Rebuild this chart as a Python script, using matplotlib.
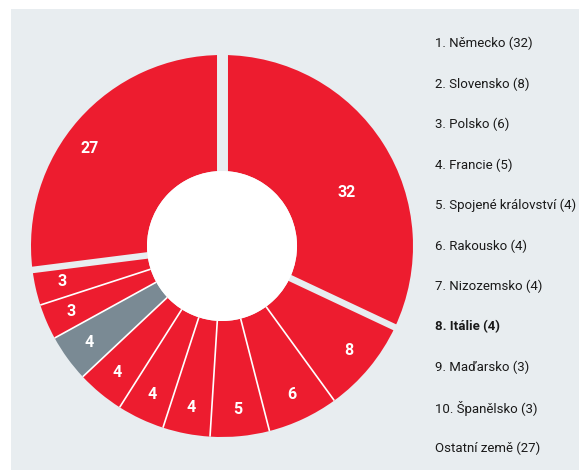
import numpy as np
import matplotlib
matplotlib.use("Agg")
import matplotlib.pyplot as plt
from matplotlib.patches import Rectangle, Circle

# ---- data ----
countries = ["Německo", "Slovensko", "Polsko", "Francie", "Spojené království",
             "Rakousko", "Nizozemsko", "Itálie", "Maďarsko", "Španělsko", "Ostatní země"]
values = [32, 8, 6, 5, 4, 4, 4, 4, 3, 3, 27]
highlight = "Itálie"

RED = "#ed1c2f"
GREY = "#7a8a94"
BG = "#e8edf0"

plt.rcParams["font.family"] = ["Roboto", "DejaVu Sans"]

W, H = 579, 470
fig = plt.figure(figsize=(W / 100, H / 100), dpi=100)
fig.patch.set_facecolor("white")
fig.patches.append(Rectangle((11 / W, 0), 1, (H - 9) / H, transform=fig.transFigure,
                             facecolor=BG, edgecolor="none", zorder=-10))

R_PX = 191.0
ax = fig.add_axes([(222 - 210) / W, (224 - 210) / H, 420 / W, 420 / H])
ax.set_zorder(1)
ax.patch.set_alpha(0)
r_in = 75 / R_PX
colors = [GREY if c == highlight else RED for c in countries]
wedges, _ = ax.pie(values, radius=1, startangle=90, counterclock=False, colors=colors,
                   wedgeprops=dict(width=1 - r_in, linewidth=0))
ax.set_xlim(-210 / R_PX, 210 / R_PX)
ax.set_ylim(-210 / R_PX, 210 / R_PX)
ax.set_aspect("equal")
ax.axis("off")

total = sum(values)
cum = np.concatenate([[0], np.cumsum(values)])
ang = 90 - 360 * cum / total  # boundary angles (deg)

# separators between slices
big_gaps = {0: 7.9, 1: 4.7, len(values) - 1: 4.7}
for i in range(len(values)):
    t = np.deg2rad(ang[i])
    if i in big_gaps:
        ax.plot([0, 1.06 * np.cos(t)], [0, 1.06 * np.sin(t)], color=BG,
                lw=big_gaps[i], solid_capstyle="butt", zorder=4)
    else:
        ax.plot([r_in * np.cos(t), 1.0 * np.cos(t)], [r_in * np.sin(t), 1.0 * np.sin(t)],
                color="white", lw=1.2, solid_capstyle="butt", zorder=4)

ax.add_patch(Circle((0, 0), r_in, facecolor="white", edgecolor="none", zorder=5))

# value labels
label_r = [0.71] + [0.86] * (len(values) - 1)
label_shift = [-9] + [0] * (len(values) - 2) + [5]
for i, v in enumerate(values):
    mid = np.deg2rad((ang[i] + ang[i + 1]) / 2 + label_shift[i])
    ax.text(label_r[i] * np.cos(mid), label_r[i] * np.sin(mid), str(v), color="white",
            fontsize=11.5, fontweight="bold", ha="center", va="center", zorder=6)

# legend list on the right
for i, (c, v) in enumerate(zip(countries, values)):
    if i < len(countries) - 1:
        txt = f"{i + 1}. {c} ({v})"
    else:
        txt = f"{c} ({v})"
    y = 1 - (43.5 + 40.5 * i) / H
    fig.text(435 / W, y, txt, fontsize=9.5, va="center", ha="left", color="#1a1a1a",
             fontweight="bold" if c == highlight else "normal")

fig.savefig("out.png", dpi=100, facecolor=fig.get_facecolor())
